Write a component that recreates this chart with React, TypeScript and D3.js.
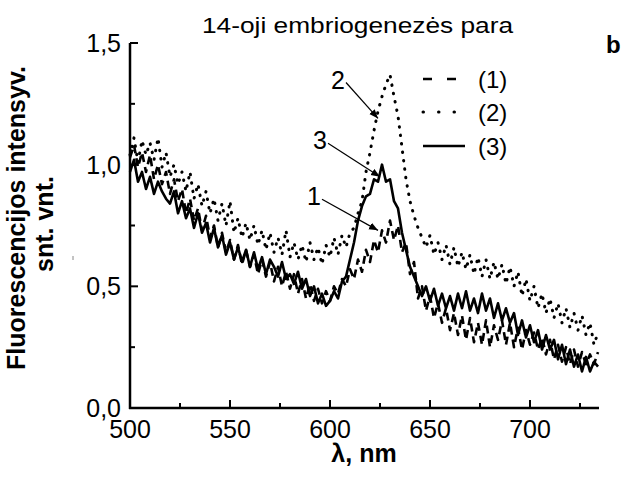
import React from "react";
import * as d3 from "d3";

const W = 622;
const H = 477;

const wavelengthStart = 500;
const wavelengthStep = 2;

// Series (1) dashed
const series1 = [
  1.03, 1.08, 0.99, 1.05, 0.97, 1.04, 0.94, 1.0, 0.92, 0.97, 0.88, 0.94, 0.85, 0.9, 0.8, 0.86, 0.77, 0.82, 0.73, 0.79,
  0.7, 0.75, 0.66, 0.72, 0.64, 0.69, 0.61, 0.67, 0.59, 0.65, 0.58, 0.63, 0.55, 0.61, 0.54, 0.6, 0.52, 0.58, 0.5, 0.56,
  0.49, 0.55, 0.47, 0.53, 0.45, 0.51, 0.44, 0.49, 0.43, 0.48, 0.44, 0.5, 0.47, 0.53, 0.5, 0.57, 0.53, 0.61, 0.56, 0.65,
  0.6, 0.69, 0.64, 0.73, 0.68, 0.77, 0.69, 0.75, 0.64, 0.68, 0.55, 0.6, 0.45, 0.5, 0.4, 0.46, 0.37, 0.43, 0.35, 0.41,
  0.32, 0.39, 0.3, 0.38, 0.28, 0.37, 0.27, 0.35, 0.26, 0.36, 0.25, 0.34, 0.28, 0.36, 0.26, 0.35, 0.25, 0.33, 0.24, 0.32,
  0.26, 0.31, 0.24, 0.29, 0.22, 0.28, 0.2, 0.26, 0.19, 0.25, 0.18, 0.24, 0.17, 0.23, 0.18, 0.22, 0.18, 0.23,
];

// Series (2) dotted
const series2 = [
  1.04, 1.11, 1.01, 1.1, 1.04, 1.09, 1.02, 1.11, 0.99, 1.05, 0.95, 1.0, 0.92, 0.97, 0.89, 0.97, 0.86, 0.92, 0.83, 0.89,
  0.8, 0.86, 0.77, 0.84, 0.75, 0.85, 0.72, 0.78, 0.7, 0.76, 0.69, 0.75, 0.67, 0.73, 0.65, 0.72, 0.64, 0.7, 0.63, 0.73,
  0.62, 0.68, 0.61, 0.67, 0.6, 0.68, 0.61, 0.66, 0.59, 0.67, 0.62, 0.7, 0.63, 0.71, 0.66, 0.72, 0.74, 0.8, 0.85, 0.97,
  1.05, 1.14, 1.22, 1.28, 1.33, 1.37, 1.28, 1.2, 1.07, 0.94, 0.85, 0.79, 0.74, 0.7, 0.66, 0.71, 0.63, 0.68, 0.61, 0.67,
  0.59, 0.66, 0.58, 0.64, 0.57, 0.63, 0.55, 0.62, 0.54, 0.61, 0.53, 0.6, 0.53, 0.59, 0.51, 0.58, 0.5, 0.56, 0.46, 0.53,
  0.44, 0.5, 0.41, 0.47, 0.39, 0.45, 0.37, 0.43, 0.35, 0.41, 0.33, 0.39, 0.32, 0.38, 0.3, 0.35, 0.26, 0.31,
];

// Series (3) solid
const series3 = [
  0.97, 1.02, 0.93, 0.97, 0.9, 0.95, 0.88, 0.93, 0.89, 0.86, 0.84, 0.89, 0.8, 0.85, 0.78, 0.82, 0.74, 0.8, 0.72, 0.76,
  0.68, 0.74, 0.66, 0.71, 0.63, 0.68, 0.61, 0.66, 0.6, 0.65, 0.58, 0.64, 0.57, 0.62, 0.55, 0.61, 0.58, 0.54, 0.6, 0.53,
  0.55, 0.51, 0.56, 0.49, 0.53, 0.46, 0.5, 0.43, 0.47, 0.42, 0.44, 0.48, 0.45, 0.52, 0.54, 0.61, 0.68, 0.77, 0.83, 0.87,
  0.88, 0.94, 0.93, 1.0, 0.93, 0.94, 0.85, 0.82, 0.72, 0.65, 0.58, 0.54, 0.5, 0.46, 0.5, 0.44, 0.49, 0.42, 0.47, 0.41,
  0.46, 0.4, 0.47, 0.41, 0.48, 0.4, 0.45, 0.39, 0.47, 0.4, 0.45, 0.37, 0.43, 0.36, 0.41, 0.35, 0.39, 0.3, 0.36, 0.29,
  0.34, 0.27, 0.32, 0.24, 0.3, 0.24, 0.28, 0.2, 0.26, 0.18, 0.24, 0.17, 0.22, 0.15, 0.21, 0.15, 0.19, 0.17,
];

const xMajorTicks = [500, 550, 600, 650, 700];
const xMinorTicks = [525, 575, 625, 675, 725];
const yMajorTicks = [0, 0.5, 1.0, 1.5];
const yMinorTicks = [0.25, 0.75, 1.25];
const yTickLabels = ["0,0", "0,5", "1,0", "1,5"];

const legendLabels = ["(1)", "(2)", "(3)"];
const titleText = "14-oji embriogenezės para";
const xLabel = "λ, nm";
const yLabel1 = "Fluorescencijos intensyv.";
const yLabel2 = "snt. vnt.";

// annotation: label position and the point the arrow points at (data units)
const annotations = [
  { label: "2", tx: 604, ty: 1.35, px: 624, py: 1.19 },
  { label: "3", tx: 595, ty: 1.1, px: 625, py: 0.95 },
  { label: "1", tx: 592, ty: 0.87, px: 624, py: 0.73 },
];

const FONT = "'Liberation Sans', Arial, sans-serif";

export default function App() {
  const x = d3.scaleLinear().domain([500, 734.5]).range([130, 599]);
  const y = d3.scaleLinear().domain([0, 1.5]).range([408, 43]);
  const wl = (i: number) => wavelengthStart + i * wavelengthStep;
  const line = d3
    .line<number>()
    .x((_, i) => x(wl(i)))
    .y((d) => y(d));

  const styles = [
    { data: series1, dash: "8,5", cap: "butt" as const, width: 2.6 },
    { data: series2, dash: "0.5,8", cap: "round" as const, width: 3 },
    { data: series3, dash: undefined, cap: "butt" as const, width: 2.6 },
  ];
  const legendDash = ["9,15", "0.5,15", undefined];
  const legendCap = ["butt", "round", "butt"] as const;
  const legendY = [79, 112, 146];

  return (
    <svg
      width={W}
      height={H}
      style={{ position: "absolute", left: 0, top: 0, background: "#fff" }}
      fontFamily={FONT}
    >
      <defs>
        <marker id="arr" viewBox="0 0 10 10" refX="10" refY="5" markerWidth="9" markerHeight="9" markerUnits="userSpaceOnUse" orient="auto">
          <path d="M0,1 L10,5 L0,9 z" fill="#000" />
        </marker>
      </defs>

      {/* title */}
      <text x={202} y={33} fontSize={22} textLength={311} lengthAdjust="spacingAndGlyphs">
        {titleText}
      </text>
      <text x={606} y={53} fontSize={24} fontWeight="bold">
        b
      </text>

      {/* series */}
      {styles.map((s, k) => (
        <path
          key={k}
          d={line(s.data) || ""}
          fill="none"
          stroke="#000"
          strokeWidth={s.width}
          strokeDasharray={s.dash}
          strokeLinecap={s.cap}
          strokeLinejoin="round"
        />
      ))}

      {/* axes */}
      <line x1={130} y1={y(1.5)} x2={130} y2={409} stroke="#000" strokeWidth={2.5} />
      <line x1={129} y1={408} x2={599} y2={408} stroke="#000" strokeWidth={2.5} />
      {xMajorTicks.map((t) => (
        <line key={"xm" + t} x1={x(t)} x2={x(t)} y1={408} y2={400} stroke="#000" strokeWidth={2} />
      ))}
      {xMinorTicks.map((t) => (
        <line key={"xn" + t} x1={x(t)} x2={x(t)} y1={408} y2={403} stroke="#000" strokeWidth={2} />
      ))}
      {yMajorTicks.map((t) => (
        <line key={"ym" + t} x1={130} x2={138} y1={y(t)} y2={y(t)} stroke="#000" strokeWidth={2} />
      ))}
      {yMinorTicks.map((t) => (
        <line key={"yn" + t} x1={130} x2={135} y1={y(t)} y2={y(t)} stroke="#000" strokeWidth={2} />
      ))}
      {xMajorTicks.map((t) => (
        <text key={"xl" + t} x={x(t)} y={438} fontSize={25} textAnchor="middle">
          {t}
        </text>
      ))}
      {yMajorTicks.map((t, i) => (
        <text key={"yl" + t} x={121} y={y(t) + 9} fontSize={25} textAnchor="end">
          {yTickLabels[i]}
        </text>
      ))}

      {/* axis labels */}
      <text x={364} y={462} fontSize={25} fontWeight="bold" textAnchor="middle">
        {xLabel}
      </text>
      <text transform="translate(25,218) rotate(-90)" fontSize={25} fontWeight="bold" textAnchor="middle">
        {yLabel1}
      </text>
      <text transform="translate(53,224) rotate(-90)" fontSize={25} fontWeight="bold" textAnchor="middle">
        {yLabel2}
      </text>
      <line x1={73} y1={256} x2={73} y2={260} stroke="#888" strokeWidth={1} />

      {/* legend */}
      {legendLabels.map((l, i) => (
        <g key={l}>
          <line
            x1={423}
            x2={i === 2 ? 465 : 458}
            y1={legendY[i]}
            y2={legendY[i]}
            stroke="#000"
            strokeWidth={i === 1 ? 3 : 2.6}
            strokeDasharray={legendDash[i]}
            strokeLinecap={legendCap[i]}
          />
          <text x={478} y={legendY[i] + 9} fontSize={24}>
            {l}
          </text>
        </g>
      ))}

      {/* annotations */}
      {annotations.map((a) => {
        const tx = x(a.tx);
        const ty = y(a.ty);
        return (
          <g key={a.label}>
            <text x={tx} y={ty + 9} fontSize={25} textAnchor="middle">
              {a.label}
            </text>
            <line x1={tx + 8} y1={ty + 3} x2={x(a.px)} y2={y(a.py)} stroke="#000" strokeWidth={1.2} markerEnd="url(#arr)" />
          </g>
        );
      })}
    </svg>
  );
}
